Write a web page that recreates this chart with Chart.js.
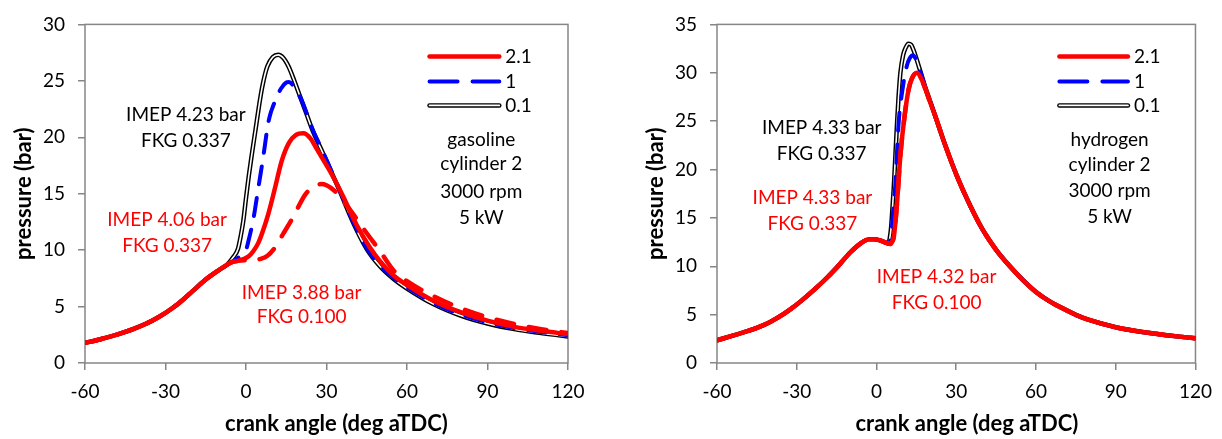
<!DOCTYPE html>
<html>
<head>
<meta charset="utf-8">
<script src="https://cdn.jsdelivr.net/npm/chart.js@4.4.1/dist/chart.umd.min.js"></script>
<style>
  html, body { margin: 0; padding: 0; background: #fff; }
  #wrap { position: relative; width: 1222px; height: 439px; }
  .box { position: absolute; top: 0; width: 611px; height: 439px; }
</style>
</head>
<body>
<div id="wrap">
  <div class="box" style="left:0"><canvas id="gas"></canvas></div>
  <div class="box" style="left:611px"><canvas id="hyd"></canvas></div>
</div>
<script>
// ====== TICKS / LABELS ======
const angleTicks = [-60, -30, 0, 30, 60, 90, 120];
const gasPressureTicks = [0, 5, 10, 15, 20, 25, 30];
const hydPressureTicks = [0, 5, 10, 15, 20, 25, 30, 35];
const seriesLabels = ["2.1", "1", "0.1"];

// ====== GASOLINE (left) ======
const gasCompAngle = [-60, -55, -50, -45, -40, -35, -30, -25, -20, -15, -10, -7];
const gasCompP = [1.78, 2.06, 2.38, 2.75, 3.2, 3.75, 4.45, 5.3, 6.35, 7.4, 8.25, 8.72];

const gas21Angle = [-5, -3, -1, 1, 2.7, 4.5, 6, 8.3, 10.8, 13.3, 16, 18.5, 21.4, 24, 26.3, 28.8, 31.3, 33.8, 36.3, 41.3, 46, 50, 55, 60, 70, 80, 90, 100, 110, 120];
const gas21P = [8.95, 9.05, 9.2, 9.45, 9.9, 10.6, 11.5, 13.2, 15.5, 17.9, 19.5, 20.2, 20.35, 19.9, 19.0, 18.0, 17.0, 15.9, 14.7, 12.2, 10.3, 9.0, 7.75, 6.9, 5.5, 4.5, 3.75, 3.2, 2.85, 2.55];

const gas1Angle = [-5, -3, -1, 0, 1, 2, 3, 4, 5, 6, 7, 8, 9, 10, 11, 13, 15, 16, 17.5, 19, 20.5, 22.5, 25, 27.5, 30, 35, 40, 45, 50, 55, 60, 70, 80, 90, 100, 110, 120];
const gas1P = [9.0, 9.3, 9.7, 10.0, 10.9, 11.9, 13.1, 14.6, 16.1, 17.6, 19.2, 20.9, 22.0, 22.7, 23.3, 24.3, 24.85, 24.9, 24.6, 24.0, 23.4, 22.2, 20.6, 19.3, 18.0, 15.25, 12.5, 10.2, 8.65, 7.55, 6.7, 5.3, 4.3, 3.6, 3.1, 2.75, 2.45];

const gas01Angle = [-5, -3, -2, -1, 0, 1, 2, 3, 4, 5, 6, 7, 8, 10, 12, 14, 16, 18, 20, 22.5, 25, 27.5, 30, 35, 40, 45, 50, 55, 60, 70, 80, 90, 100, 110, 120];
const gas01P = [9.3, 10.1, 11.2, 12.6, 14.6, 16.5, 18.2, 19.8, 21.4, 23.0, 24.4, 25.5, 26.3, 27.1, 27.3, 27.0, 26.2, 25.0, 23.7, 22.1, 20.5, 19.2, 17.9, 15.2, 12.4, 10.1, 8.55, 7.45, 6.6, 5.2, 4.2, 3.5, 3.0, 2.65, 2.35];

// 2.1 with FKG 0.100 (red dashed)
const gasLowAngle = [-5, -3, 0, 3, 5, 8, 11, 14, 17, 19, 22, 25, 28, 30, 33, 36, 39, 42, 45, 50, 55, 60, 70, 80, 90, 100, 110, 120];
const gasLowP = [8.95, 9.05, 9.1, 9.12, 9.2, 9.5, 10.3, 11.5, 12.7, 13.6, 14.9, 15.6, 15.85, 15.75, 15.25, 14.4, 13.5, 12.5, 11.5, 9.9, 8.2, 7.25, 5.9, 4.85, 4.05, 3.45, 3.0, 2.65];

// ====== HYDROGEN (right) ======
const hydCompAngle = [-60, -55, -50, -45, -40, -35, -30, -25, -20, -15, -10, -7, -5, -3, -1, 1, 3, 4.5];
const hydCompP = [2.35, 2.75, 3.17, 3.63, 4.25, 5.05, 6.05, 7.2, 8.45, 9.85, 11.4, 12.15, 12.55, 12.78, 12.8, 12.7, 12.5, 12.35];

const hydTailAngle = [22, 26, 30, 35, 40, 45, 50, 55, 60, 65, 70, 75, 80, 90, 100, 110, 120];
const hydTailP = [25.6, 22.4, 19.5, 16.4, 13.75, 11.7, 10.05, 8.6, 7.35, 6.4, 5.65, 4.98, 4.45, 3.7, 3.2, 2.85, 2.55];

const hyd01Angle = [5, 5.5, 6, 6.5, 7, 7.7, 8.3, 9, 10, 11, 12, 13, 14, 16, 18, 20];
const hyd01P = [12.9, 14.0, 16.0, 18.1, 20.8, 24.6, 27.5, 30.0, 31.8, 32.6, 33.0, 32.9, 32.3, 30.6, 28.8, 27.2];

const hyd1Angle = [5.3, 5.8, 6.5, 7.1, 8.3, 9.8, 11.4, 12.5, 13.7, 15, 16.5, 18, 20];
const hyd1P = [12.8, 14.0, 16.5, 18.5, 24.7, 28.3, 30.7, 31.5, 31.8, 31.3, 30.1, 28.8, 27.2];

const hyd21Angle = [5.2, 6, 6.5, 7.1, 7.7, 8.3, 9, 10.6, 12.1, 13.3, 15.2, 17, 18.3, 20];
const hyd21P = [12.3, 12.6, 13.0, 14.5, 16.4, 18.8, 21.5, 25.6, 28.3, 29.4, 30.0, 29.3, 28.4, 27.1];

// ====== HELPERS ======
const FONT = "Lato, 'Open Sans', sans-serif";
const GREY = "#868686";

function pts(xs, ys) {
  return xs.map((x, i) => ({ x: x, y: ys[i] }));
}

function linha(label, data, color, width, dash) {
  return {
    label: label,
    data: data,
    borderColor: color,
    borderWidth: width,
    borderDash: dash || [],
    borderCapStyle: dash ? "round" : "butt",
    pointRadius: 0,
    fill: false,
    cubicInterpolationMode: "monotone"
  };
}

const extras = {
  id: "extras",
  beforeDatasetsDraw(chart) {
    const { ctx, chartArea: a } = chart;
    ctx.save();
    ctx.strokeStyle = GREY;
    ctx.lineWidth = 1.5;
    ctx.strokeRect(a.left, a.top, a.right - a.left, a.bottom - a.top);
    ctx.restore();
  },
  afterDatasetsDraw(chart, args, o) {
    const { ctx, chartArea: a, scales } = chart;
    const xs = scales.x, ys = scales.y;
    ctx.save();
    ctx.textBaseline = "middle";

    // textos dentro do gráfico
    ctx.font = "19px " + FONT;
    ctx.textAlign = "center";
    o.notes.forEach(n => {
      ctx.fillStyle = n.color;
      ctx.fillText(n.text, xs.getPixelForValue(n.x), ys.getPixelForValue(n.y));
    });

    // legenda
    const lx1 = xs.getPixelForValue(o.legendX[0]);
    const lx2 = xs.getPixelForValue(o.legendX[1]);
    const styles = [
      { color: "#FF0000", w: 4.5, dash: [] },
      { color: "#0000FF", w: 4, dash: [28, 15] },
      { color: "#000000", w: 4.5, dash: [], inner: true }
    ];
    seriesLabels.forEach((lab, i) => {
      const y = a.top + o.legendY[i];
      const s = styles[i];
      ctx.beginPath();
      ctx.setLineDash(s.dash);
      ctx.lineCap = "round";
      ctx.strokeStyle = s.color;
      ctx.lineWidth = s.w;
      ctx.moveTo(lx1, y);
      ctx.lineTo(lx2, y);
      ctx.stroke();
      if (s.inner) {
        ctx.beginPath();
        ctx.strokeStyle = "#fff";
        ctx.lineWidth = 1.8;
        ctx.moveTo(lx1, y);
        ctx.lineTo(lx2, y);
        ctx.stroke();
      }
      ctx.setLineDash([]);
      ctx.fillStyle = "#000";
      ctx.textAlign = "left";
      ctx.fillText(lab, lx2 + 6, y);
    });

    // títulos dos eixos
    ctx.font = "bold 22px " + FONT;
    ctx.fillStyle = "#000";
    ctx.textAlign = "center";
    ctx.fillText("crank angle (deg aTDC)", xs.getPixelForValue(o.xTitleAt), 424);
    ctx.translate(o.yTitleX, (a.top + a.bottom) / 2);
    ctx.rotate(-Math.PI / 2);
    ctx.fillText("pressure (bar)", 0, 0);
    ctx.restore();
  }
};

function criarGrafico(id, cfg) {
  new Chart(document.getElementById(id), {
    type: "line",
    data: { datasets: cfg.datasets },
    options: {
      responsive: true,
      maintainAspectRatio: false,
      animation: false,
      events: [],
      layout: { padding: { top: 22, right: cfg.rightPad, left: 0, bottom: 0 } },
      plugins: { legend: { display: false }, tooltip: { enabled: false }, extras: cfg.extras },
      scales: {
        x: {
          type: "linear",
          min: -60,
          max: 120,
          afterBuildTicks: s => { s.ticks = angleTicks.map(v => ({ value: v })); },
          afterFit: s => { s.height = 76; },
          ticks: { color: "#000", font: { family: FONT, size: 19 }, padding: 10, maxRotation: 0 },
          grid: { drawOnChartArea: false, drawTicks: true, tickLength: 7, color: GREY, lineWidth: 1.5 },
          border: { display: false }
        },
        y: {
          min: 0,
          max: cfg.yMax,
          afterBuildTicks: s => { s.ticks = cfg.yTicks.map(v => ({ value: v })); },
          afterFit: s => { s.width = cfg.leftW; },
          ticks: { color: "#000", font: { family: FONT, size: 19 }, padding: 13 },
          grid: { drawOnChartArea: false, drawTicks: true, tickLength: 7, color: GREY, lineWidth: 1.5 },
          border: { display: false }
        }
      }
    },
    plugins: [extras]
  });
}

// ====== GRÁFICO GASOLINA ======
criarGrafico("gas", {
  yMax: 30,
  yTicks: gasPressureTicks,
  leftW: 85,
  rightPad: 43,
  datasets: [
    linha("2.1 FKG 0.100", pts(gasCompAngle.concat(gasLowAngle), gasCompP.concat(gasLowP)), "#FF0000", 4.5, [18, 15]),
    linha("2.1", pts(gasCompAngle.concat(gas21Angle), gasCompP.concat(gas21P)), "#FF0000", 4.5),
    linha("1", pts(gasCompAngle.concat(gas1Angle), gasCompP.concat(gas1P)), "#0000FF", 4, [18, 14]),
    linha("0.1 inner", pts(gasCompAngle.concat(gas01Angle), gasCompP.concat(gas01P)), "#FFFFFF", 1.6),
    linha("0.1", pts(gasCompAngle.concat(gas01Angle), gasCompP.concat(gas01P)), "#000000", 4.5)
  ],
  extras: {
    legendX: [68.4, 94.4],
    legendY: [32, 57, 81],
    xTitleAt: 33.7,
    yTitleX: 24,
    notes: [
      { text: "IMEP 4.23 bar", x: -22.4, y: 22.0, color: "#000" },
      { text: "FKG 0.337", x: -22.4, y: 19.7, color: "#000" },
      { text: "IMEP 4.06 bar", x: -29.4, y: 12.67, color: "#FF0000" },
      { text: "FKG 0.337", x: -29.4, y: 10.38, color: "#FF0000" },
      { text: "IMEP 3.88 bar", x: 20.7, y: 6.25, color: "#FF0000" },
      { text: "FKG 0.100", x: 20.7, y: 4.05, color: "#FF0000" },
      { text: "gasoline", x: 87.7, y: 19.8, color: "#000" },
      { text: "cylinder 2", x: 87.7, y: 17.6, color: "#000" },
      { text: "3000 rpm", x: 87.7, y: 15.2, color: "#000" },
      { text: "5 kW", x: 87.7, y: 12.9, color: "#000" }
    ]
  }
});

// ====== GRÁFICO HIDROGÊNIO ======
const hyd01 = pts(hydCompAngle.concat(hyd01Angle, hydTailAngle), hydCompP.concat(hyd01P, hydTailP));
const hyd21 = pts(hydCompAngle.concat(hyd21Angle, hydTailAngle), hydCompP.concat(hyd21P, hydTailP));

criarGrafico("hyd", {
  yMax: 35,
  yTicks: hydPressureTicks,
  leftW: 106,
  rightPad: 23,
  datasets: [
    linha("2.1 FKG 0.100", hyd21, "#FF0000", 4.5, [18, 15]),
    linha("2.1", hyd21, "#FF0000", 4.5),
    linha("1", pts(hydCompAngle.concat(hyd1Angle, hydTailAngle), hydCompP.concat(hyd1P, hydTailP)), "#0000FF", 4, [18, 14]),
    linha("0.1 inner", hyd01, "#FFFFFF", 1.6),
    linha("0.1", hyd01, "#000000", 4.5)
  ],
  extras: {
    legendX: [68.8, 94.6],
    legendY: [32, 57, 81],
    xTitleAt: 34.0,
    yTitleX: 45,
    notes: [
      { text: "IMEP 4.33 bar", x: -20.6, y: 24.3, color: "#000" },
      { text: "FKG 0.337", x: -20.6, y: 21.66, color: "#000" },
      { text: "IMEP 4.33 bar", x: -24.1, y: 17.04, color: "#FF0000" },
      { text: "FKG 0.337", x: -24.1, y: 14.37, color: "#FF0000" },
      { text: "IMEP 4.32 bar", x: 22.6, y: 8.93, color: "#FF0000" },
      { text: "FKG 0.100", x: 22.6, y: 6.26, color: "#FF0000" },
      { text: "hydrogen", x: 87.7, y: 23.1, color: "#000" },
      { text: "cylinder 2", x: 87.7, y: 20.5, color: "#000" },
      { text: "3000 rpm", x: 87.7, y: 17.76, color: "#000" },
      { text: "5 kW", x: 87.7, y: 15.09, color: "#000" }
    ]
  }
});
</script>
</body>
</html>
